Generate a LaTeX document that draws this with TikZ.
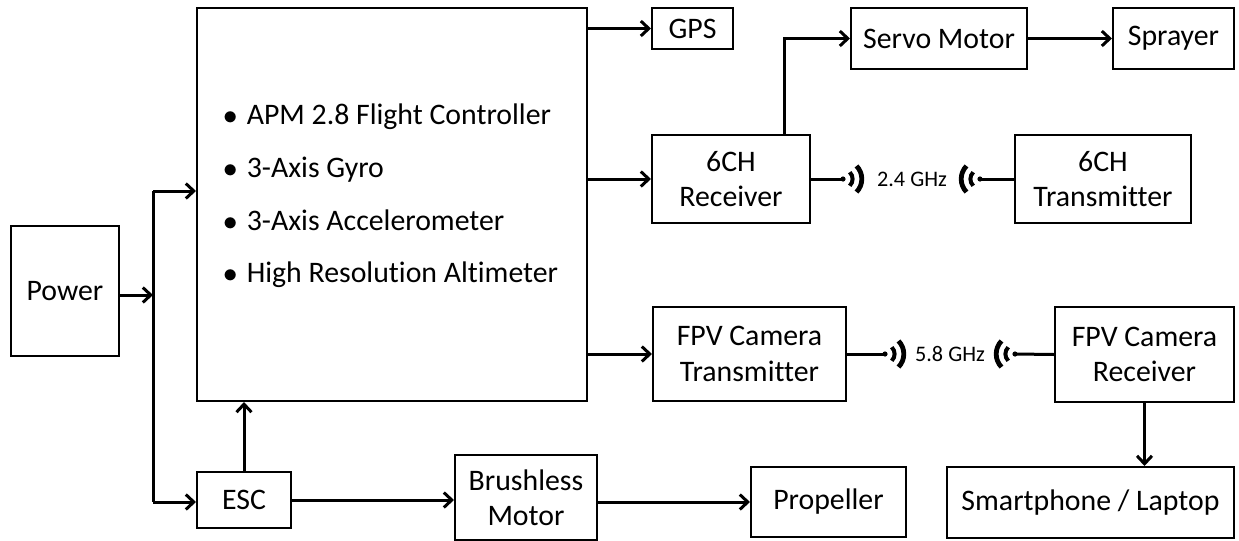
\documentclass[tikz,border=0pt]{standalone}
\usepackage{fontspec}
\setmainfont{Carlito}[Ligatures={NoCommon}]
\usetikzlibrary{arrows.meta, calc}

\newcommand{\featbullet}{$\bullet$\hspace{4.5pt}}

\tikzset{
    pics/waves/.style={
        code={
            \fill (0,0) circle (1.3pt);
            \draw[line width=2pt] (-45:4.8pt) arc[start angle=-45, end angle=45, radius=4.8pt];
            \draw[line width=2.4pt] (-44:9.4pt) arc[start angle=-44, end angle=44, radius=9.4pt];
        }
    }
}

\begin{document}
\begin{tikzpicture}[
        x=0.5pt, y=-0.5pt,
        font=\fontsize{14.9pt}{17.6pt}\selectfont,
        block/.style={draw, line width=1pt, align=center, inner sep=0pt},
        conn_line/.style={line width=1.5pt},
        conn_arrow/.style={line width=1.5pt, -{Straight Barb[length=4pt, width=7.5pt]}},
        freq_label/.style={font=\fontsize{11.1pt}{13pt}\selectfont, inner sep=0pt}
    ]
    \useasboundingbox (0,0) rectangle (1239,541);

    % Blocks
    \node[block, minimum width=54pt, minimum height=65pt] (power) at (65,291) {Power};
    \node[block, minimum width=195pt, minimum height=196.5pt] (main) at (392,204.5) {};
    \node[anchor=west, align=left, inner sep=0pt, font=\fontsize{14.9pt}{26.35pt}\selectfont] (feats) at (223,196)
        {\featbullet APM 2.8 Flight Controller\\ \featbullet 3-Axis Gyro\\ \featbullet 3-Axis Accelerometer\\ \featbullet High Resolution Altimeter};
    \node[block, minimum width=40.5pt, minimum height=20.5pt] (gps) at (692.5,28.5) {GPS};
    \node[block, minimum width=88pt, minimum height=30.5pt] (servo) at (939,38.5) {Servo Motor};
    \node[block, minimum width=60.5pt, minimum height=30.5pt] (sprayer) at (1173.5,38.5) {Sprayer};
    \node[block, minimum width=79pt, minimum height=44pt] (rx6) at (731,179) {6CH\\Receiver};
    \node[block, minimum width=88pt, minimum height=44pt] (tx6) at (1103,179) {6CH\\Transmitter};
    \node[block, minimum width=96.5pt, minimum height=47pt] (fpvtx) at (749.5,354) {FPV Camera\\Transmitter};
    \node[block, minimum width=89.5pt, minimum height=47.5pt] (fpvrx) at (1144.5,354.5) {FPV Camera\\Receiver};
    \node[block, minimum width=143.5pt, minimum height=35.5pt] (phone) at (1090.5,502.5) {Smartphone / Laptop};
    \node[block, minimum width=47pt, minimum height=28pt] (esc) at (244,500) {ESC};
    \node[block, minimum width=71pt, minimum height=42.5pt] (bldc) at (526,497.5) {Brushless\\Motor};
    \node[block, minimum width=77.5pt, minimum height=35pt] (prop) at (828.5,502) {Propeller};

    % Power bus
    \coordinate (bus_top) at (153,191);
    \coordinate (bus_in) at (153,295);
    \coordinate (bus_bot) at (153,502);
    \draw[conn_line] (bus_top) -- (bus_bot);
    \draw[conn_arrow] (power.east |- bus_in) -- (bus_in);
    \draw[conn_arrow] (bus_top) -- (bus_top -| main.west);
    \draw[conn_arrow] (bus_bot) -- (bus_bot -| esc.west);

    % Drive chain
    \draw[conn_arrow] (esc.north) -- (esc.north |- main.south);
    \draw[conn_arrow] (esc.east) -- (esc.east -| bldc.west);
    \draw[conn_arrow] (prop.west -| bldc.east) -- (prop.west);

    % Controller outputs
    \draw[conn_arrow] (gps.west -| main.east) -- (gps.west);
    \draw[conn_arrow] (rx6.west -| main.east) -- (rx6.west);
    \draw[conn_arrow] (fpvtx.west -| main.east) -- (fpvtx.west);
    \draw[conn_arrow] ([xshift=26.5pt]rx6.north) |- (servo.west);
    \draw[conn_arrow] (servo.east) -- (sprayer.west);
    \draw[conn_arrow] (fpvrx.south) -- (fpvrx.south |- phone.north);

    % 2.4 GHz link
    \coordinate (rx_sig) at (843,179);
    \coordinate (tx_sig) at (980,179);
    \draw[conn_line] (rx6.east) -- (rx_sig);
    \pic at (rx_sig) {waves};
    \node[freq_label] (f24) at (912,179) {2.4 GHz};
    \pic[rotate=180] at (tx_sig) {waves};
    \draw[conn_line] (tx_sig) -- (tx6.west);

    % 5.8 GHz link
    \coordinate (cam_tx_sig) at (885,354);
    \coordinate (cam_rx_sig) at (1015,354);
    \draw[conn_line] (fpvtx.east) -- (cam_tx_sig);
    \pic at (cam_tx_sig) {waves};
    \node[freq_label] (f58) at (950,354) {5.8 GHz};
    \pic[rotate=180] at (cam_rx_sig) {waves};
    \draw[conn_line] (cam_rx_sig) -- (fpvrx.west);

\end{tikzpicture}
\end{document}
